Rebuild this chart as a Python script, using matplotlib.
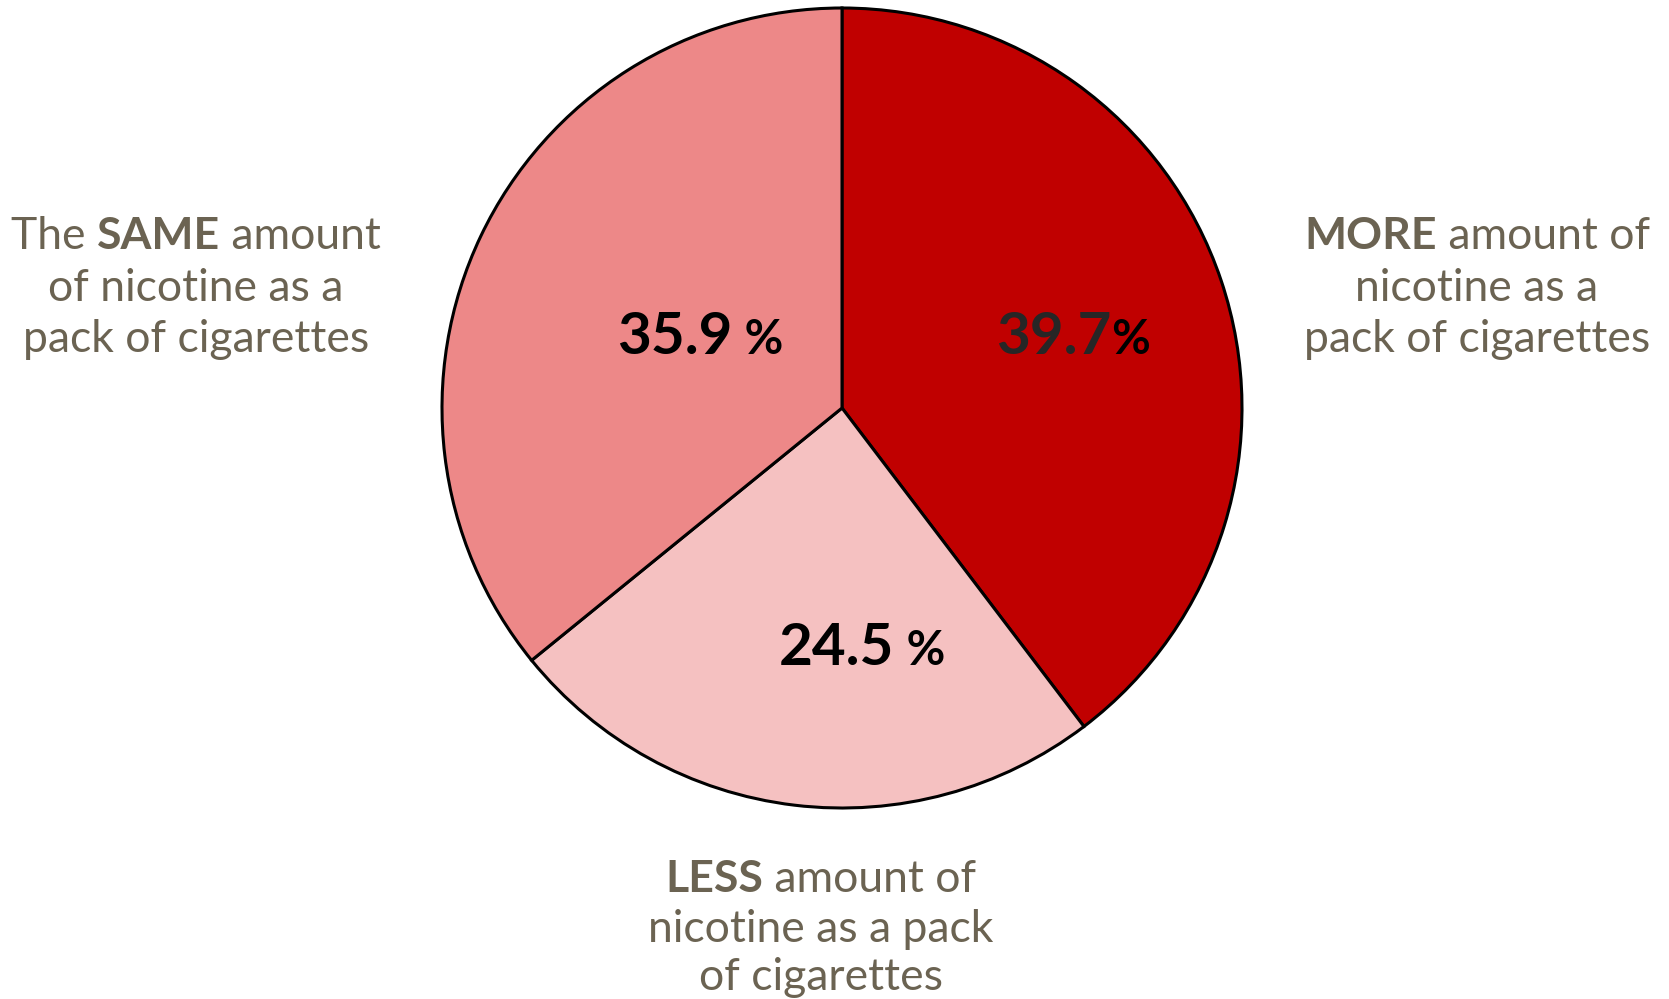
import matplotlib
matplotlib.use("Agg")
import matplotlib.pyplot as plt

# ---- data ----
categories = ["MORE", "LESS", "SAME"]
values = [39.7, 24.5, 35.9]
colors = ["#C00000", "#F5C1C1", "#ED8888"]
value_texts = ["39.7", "24.5", "35.9"]
pct_texts = ["%", " %", " %"]
value_colors = ["#262626", "#000000", "#000000"]

# category label lines: list of runs (text, bold)
label_lines = {
    "SAME": [[("The ", False), ("SAME", True), (" amount", False)],
             [("of nicotine as a", False)],
             [("pack of cigarettes", False)]],
    "MORE": [[("MORE", True), (" amount of", False)],
             [("nicotine as a", False)],
             [("pack of cigarettes", False)]],
    "LESS": [[("LESS", True), (" amount of", False)],
             [("nicotine as a pack", False)],
             [("of cigarettes", False)]],
}

W, H = 1669, 999
FONT = "Lato"
TXT_COLOR = "#6B6352"

fig = plt.figure(figsize=(W / 100, H / 100), dpi=100)
ax = fig.add_axes([0, 0, 1, 1])
ax.pie(values, colors=colors, startangle=90, counterclock=False,
       center=(842, H - 408), radius=400,
       wedgeprops=dict(edgecolor="black", linewidth=2.2))
ax.set_xlim(0, W)
ax.set_ylim(0, H)
ax.set_aspect("equal")
ax.axis("off")

renderer = fig.canvas.get_renderer()


def text_width(s, size, weight):
    t = ax.text(0, 0, s, fontsize=size, fontweight=weight, family=FONT)
    w = t.get_window_extent(renderer).width
    t.remove()
    return w


def run_width(s, size, weight):
    return text_width("|" + s + "|", size, weight) - text_width("||", size, weight)


def draw_runs(xc, y_img, runs, size):
    widths = [run_width(s, size, "bold" if b else "normal") for s, b in runs]
    total = sum(widths)
    x = xc - total / 2
    for (s, b), w in zip(runs, widths):
        ax.text(x, H - y_img, s, fontsize=size, fontweight="bold" if b else "normal",
                family=FONT, color=TXT_COLOR, ha="left", va="baseline")
        x += w


LBL_SIZE = 32
label_pos = {"SAME": (196, [249, 301, 352]),
             "MORE": (1477, [249, 301, 352]),
             "LESS": (821, [892, 942, 990])}
for cat in categories:
    xc, ys = label_pos[cat]
    for runs, y in zip(label_lines[cat], ys):
        draw_runs(xc, y, runs, LBL_SIZE)

# value labels
NUM_SIZE = 42
PCT_SIZE = 34
val_pos = {"MORE": (1073, 354), "LESS": (862, 665), "SAME": (700, 354)}
for cat, vt, pt, vc in zip(categories, value_texts, pct_texts, value_colors):
    xc, y = val_pos[cat]
    w1 = run_width(vt, NUM_SIZE, "bold")
    w2 = run_width(pt, PCT_SIZE, "bold")
    x = xc - (w1 + w2) / 2
    ax.text(x, H - y, vt, fontsize=NUM_SIZE, fontweight="bold", family=FONT,
            color=vc, ha="left", va="baseline")
    ax.text(x + w1, H - y, pt, fontsize=PCT_SIZE, fontweight="bold", family=FONT,
            color="black", ha="left", va="baseline")

fig.savefig("out.png", dpi=100, facecolor="white")
